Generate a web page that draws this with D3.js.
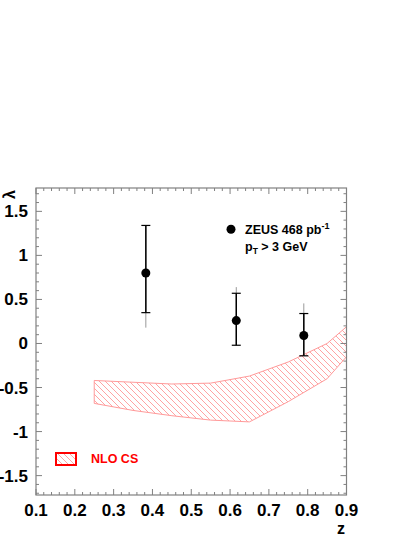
<!DOCTYPE html>
<html>
<head>
<meta charset="utf-8">
<script src="https://cdn.jsdelivr.net/npm/d3@7"></script>
<style>
  body { margin: 0; background: #fff; }
  svg text { font-family: "Liberation Sans", Arial, Helvetica, sans-serif; font-weight: bold; }
</style>
</head>
<body>
<svg id="chart" width="415" height="537"></svg>
<script>
/*========== data ===========*/
var zPoints = [0.383, 0.616, 0.79];
var lambdaVals = [0.80, 0.26, 0.09];
var statUp = [0.54, 0.31, 0.25];
var statDn = [0.45, 0.28, 0.23];
var totUp = [0.54, 0.38, 0.365];
var totDn = [0.62, 0.28, 0.23];

var bandZ = [0.25, 0.35, 0.45, 0.55, 0.65, 0.75, 0.85, 0.90];
var bandHi = [-0.42, -0.44, -0.46, -0.45, -0.37, -0.21, 0.00, 0.19];
var bandLo = [-0.68, -0.76, -0.82, -0.87, -0.89, -0.66, -0.40, -0.15];

var xTickLabels = ["0.1", "0.2", "0.3", "0.4", "0.5", "0.6", "0.7", "0.8", "0.9"];
var yTickLabels = ["-1.5", "-1", "-0.5", "0", "0.5", "1", "1.5"];

/*========== scales ===========*/
var svg = d3.select("#chart");
var x = d3.scaleLinear().domain([0.1, 0.9]).range([36, 346.5]);
var y = d3.scaleLinear().domain([-1.72, 1.765]).range([495, 188]);
var axisCol = "#808080";

// hatch pattern for the NLO CS band
var defs = svg.append("defs");
defs.append("pattern")
    .attr("id", "hatch")
    .attr("patternUnits", "userSpaceOnUse")
    .attr("width", 6).attr("height", 6)
    .append("path")
    .attr("d", "M-1,-1 L7,7 M-1,5 L1,7 M5,-1 L7,1")
    .attr("stroke", "#ff8c8c")
    .attr("stroke-width", 0.8)
    .attr("fill", "none");

/*========== band ===========*/
var bandData = bandZ.map(function (z, i) { return {z: z, hi: bandHi[i], lo: bandLo[i]}; });
var area = d3.area()
    .x(function (d) { return x(d.z); })
    .y0(function (d) { return y(d.lo); })
    .y1(function (d) { return y(d.hi); });
svg.append("path")
    .datum(bandData)
    .attr("d", area)
    .attr("fill", "url(#hatch)")
    .attr("stroke", "#ff9a9a")
    .attr("stroke-width", 1);

/*========== frame + ticks ===========*/
var fr = svg.append("g");
fr.append("rect")
    .attr("x", x(0.1)).attr("y", y(1.765))
    .attr("width", x(0.9) - x(0.1)).attr("height", y(-1.72) - y(1.765))
    .attr("fill", "none").attr("stroke", axisCol).attr("stroke-width", 1.2);

var xMinor = d3.range(0.1, 0.9001, 0.02);
xMinor.forEach(function (v, i) {
    var len = (i % 5 === 0) ? 6 : 3;
    fr.append("line").attr("x1", x(v)).attr("x2", x(v))
        .attr("y1", y(-1.72)).attr("y2", y(-1.72) - len)
        .attr("stroke", axisCol);
    fr.append("line").attr("x1", x(v)).attr("x2", x(v))
        .attr("y1", y(1.765)).attr("y2", y(1.765) + len)
        .attr("stroke", axisCol);
});
var yMinor = d3.range(-1.7, 1.7501, 0.1);
yMinor.forEach(function (v) {
    var major = Math.abs(Math.round(v * 10) % 5) === 0;
    var len = major ? 6 : 3;
    fr.append("line").attr("x1", x(0.1)).attr("x2", x(0.1) + len)
        .attr("y1", y(v)).attr("y2", y(v)).attr("stroke", axisCol);
    fr.append("line").attr("x1", x(0.9)).attr("x2", x(0.9) - len)
        .attr("y1", y(v)).attr("y2", y(v)).attr("stroke", axisCol);
});

// tick labels
svg.append("g").selectAll("text")
    .data(xTickLabels)
    .enter().append("text")
    .attr("x", function (d) { return x(+d); })
    .attr("y", 516)
    .attr("text-anchor", "middle")
    .attr("font-size", 17)
    .text(function (d) { return d; });

svg.append("g").selectAll("text")
    .data(yTickLabels)
    .enter().append("text")
    .attr("x", 28)
    .attr("y", function (d) { return y(+d) + 6; })
    .attr("text-anchor", "end")
    .attr("font-size", 17)
    .text(function (d) { return d; });

// axis titles
svg.append("text").attr("x", 341).attr("y", 534)
    .attr("text-anchor", "middle").attr("font-size", 16).text("z");
svg.append("text")
    .attr("transform", "translate(15,199) rotate(-90)")
    .attr("text-anchor", "start").attr("font-size", 16).text("λ");

/*========== data points ===========*/
var pts = zPoints.map(function (z, i) {
    return {z: z, v: lambdaVals[i], su: statUp[i], sd: statDn[i], tu: totUp[i], td: totDn[i]};
});
var pg = svg.append("g");
// total errors (grey)
pg.selectAll(".tot").data(pts).enter().append("line")
    .attr("x1", function (d) { return x(d.z); })
    .attr("x2", function (d) { return x(d.z); })
    .attr("y1", function (d) { return y(d.v + d.tu); })
    .attr("y2", function (d) { return y(d.v - d.td); })
    .attr("stroke", "#999").attr("stroke-width", 1);
// stat errors
pg.selectAll(".stat").data(pts).enter().append("line")
    .attr("x1", function (d) { return x(d.z); })
    .attr("x2", function (d) { return x(d.z); })
    .attr("y1", function (d) { return y(d.v + d.su); })
    .attr("y2", function (d) { return y(d.v - d.sd); })
    .attr("stroke", "#000").attr("stroke-width", 1.5);
["su", "sd"].forEach(function (k) {
    pg.selectAll(".cap" + k).data(pts).enter().append("line")
        .attr("x1", function (d) { return x(d.z) - 4.5; })
        .attr("x2", function (d) { return x(d.z) + 4.5; })
        .attr("y1", function (d) { return y(k === "su" ? d.v + d.su : d.v - d.sd); })
        .attr("y2", function (d) { return y(k === "su" ? d.v + d.su : d.v - d.sd); })
        .attr("stroke", "#000").attr("stroke-width", 1.2);
});
pg.selectAll("circle").data(pts).enter().append("circle")
    .attr("cx", function (d) { return x(d.z); })
    .attr("cy", function (d) { return y(d.v); })
    .attr("r", 4.5).attr("fill", "#000");

/*========== legends ===========*/
svg.append("circle").attr("cx", 231).attr("cy", 229.3).attr("r", 4.5).attr("fill", "#000");
var t1 = svg.append("text").attr("x", 245).attr("y", 233.5).attr("font-size", 12.5);
t1.append("tspan").text("ZEUS 468 pb");
t1.append("tspan").attr("dy", -5).attr("font-size", 9).text("-1");
var t2 = svg.append("text").attr("x", 245).attr("y", 251).attr("font-size", 12.5);
t2.append("tspan").text("p");
t2.append("tspan").attr("dy", 3).attr("font-size", 8.5).text("T");
t2.append("tspan").attr("dy", -3).text(" > 3 GeV");

svg.append("rect").attr("x", 56).attr("y", 453).attr("width", 20).attr("height", 12)
    .attr("fill", "url(#hatch)").attr("stroke", "#ff0000").attr("stroke-width", 2);
svg.append("text").attr("x", 91).attr("y", 463).attr("font-size", 12.5)
    .attr("fill", "#ff0000").text("NLO CS");
</script>
</body>
</html>
